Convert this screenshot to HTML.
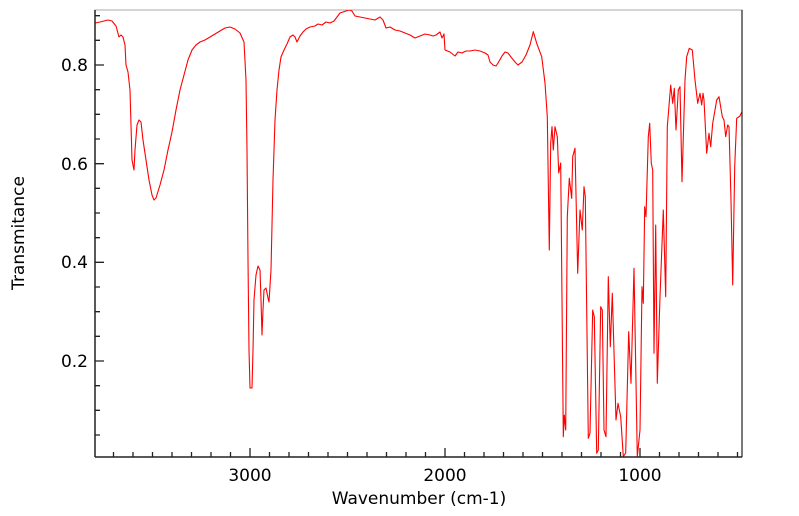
<!DOCTYPE html>
<html><head><meta charset="utf-8"><style>
html,body{margin:0;padding:0;background:#fff;}
svg{display:block;font-family:"DejaVu Sans","Liberation Sans",sans-serif;}
</style></head><body>
<svg width="799" height="516" viewBox="0 0 799 516" xmlns="http://www.w3.org/2000/svg">
<defs><clipPath id="c"><rect x="95" y="10" width="647" height="447"/></clipPath></defs>
<rect x="95" y="10" width="647" height="447" fill="#fff" stroke="#aaa" stroke-width="1"/>
<polyline clip-path="url(#c)" fill="none" stroke="#ff0000" stroke-width="1.1" stroke-linejoin="round" points="
95,23 100,22 104,21 108,20 112,21 116,26 119,37 121,35 123,37 125,45 126,65 128,72 130,90 132,160 134,170 135,150 137,125 139,120 141,122 143,140 146,160 149,180 152,195 154,200 156,198 160,185 164,170 168,150 172,132 176,110 180,90 184,75 188,60 192,50 196,45 200,42 205,40 210,37 215,34 220,31 225,28 230,27 235,29 240,33 244,42 246,80 247,150 248,260 249,350 250,388 252,388 253,350 254,300 256,275 258,266 260,270 261,300 262,335 263,310 264,290 266,288 268,298 269,302 271,270 273,180 275,120 277,90 279,70 281,57 284,50 287,44 290,37 293,35 295,37 297,42 300,36 303,32 306,29 310,27 315,26 318,24 322,25 326,22 330,23 334,21 337,17 340,13 343,12 346,11 349,10 352,11 355,16 360,17 365,18 370,19 375,20 380,17 383,20 386,28 390,27 395,30 400,31 405,33 410,35 415,38 420,36 425,34 430,35 433,36 436,35 440,32 442,38 444,34 445,50 450,52 455,56 458,52 462,53 466,51 470,51 475,50 480,51 485,53 488,55 490,62 493,65 496,66 498,63 502,56 505,52 508,53 511,57 515,62 518,65 522,62 526,55 530,45 533.3,31.7 536.7,43.3 541.7,56.7 545,83 547.3,116.7 549.3,250 550.7,143 552,126.7 553.3,150 555,126.7 557.3,136.7 558.7,173 560.7,163 563.3,436.7 564.3,415 565.7,430 567.3,216.7 569.3,178.3 571.7,198.3 572.7,156.7 575,148.3 577.7,273.3 580,210 582.3,230 584,186.7 585.3,196.7 588.3,438.3 590,433 592.7,310 594.3,316.7 596.7,453.3 598.3,450 600.7,306.7 602.3,310 604,430 606,436.7 608.3,276.7 610.3,346.7 612.3,293.3 616,420 618,403.3 620.7,416.7 623.3,456.7 625.7,453 628.7,331.7 631,383.3 634,268.3 637.3,456.7 640,430 642,286.7 643.3,303.3 644.7,206.7 646,216.7 648.3,136.7 649.7,123.3 651.3,163.3 652.7,170 654,353.3 655.7,225 657.3,383.3 660,296.7 663.3,210 665.7,296.7 667.3,126.7 670.7,85 672.7,103.3 674.3,88.3 676,130 678.3,90 680,86.7 682,181.7 685,80 686.7,56.7 689.3,48.3 692.3,50 695,80 697.7,103.3 700,93.3 701.7,105 703,93.3 704,100 706.7,153.3 709,133.3 710.7,146.7 712.7,123.3 716.7,100 719,96.7 722.3,116.7 724,120 725.7,136.7 727.7,125 729,126.7 731,200 732.7,285 734.7,166.7 736.7,118.3 740,116 742.7,110"/>
<path stroke="#222" stroke-width="1.3" fill="none" d="
M113.5,457v-5M133,457v-5M152.5,457v-5M172,457v-5M191.5,457v-5M211,457v-5M230.5,457v-5M250,457v-9M269.5,457v-5M289,457v-5M308.5,457v-5M328,457v-5M347.5,457v-5M367,457v-5M386.5,457v-5M406,457v-5M425.5,457v-5M445,457v-9M464.5,457v-5M484,457v-5M503.5,457v-5M523,457v-5M542.5,457v-5M562,457v-5M581.5,457v-5M601,457v-5M620.5,457v-5M640,457v-9M659.5,457v-5M679,457v-5M698.5,457v-5M718,457v-5M737.5,457v-5
M95,435h5M95,410.3h5M95,385.7h5M95,361h9M95,336.3h5M95,311.7h5M95,287h5M95,262.3h9M95,237.7h5M95,213h5M95,188.3h5M95,163.7h9M95,139h5M95,114.3h5M95,89.7h5M95,65h9M95,40.3h5M95,15.7h5"/>
<line x1="95" y1="10" x2="95" y2="457" stroke="#222" stroke-width="1.5"/>
<line x1="95" y1="457" x2="742" y2="457" stroke="#222" stroke-width="1.5"/>
<line x1="742" y1="10" x2="742" y2="457" stroke="#222" stroke-width="1.2"/>
<g font-size="17" fill="#000">
<text x="88" y="71" text-anchor="end">0.8</text>
<text x="88" y="170" text-anchor="end">0.6</text>
<text x="88" y="268" text-anchor="end">0.4</text>
<text x="88" y="367" text-anchor="end">0.2</text>
<text x="250" y="481" text-anchor="middle">3000</text>
<text x="445" y="481" text-anchor="middle">2000</text>
<text x="640" y="481" text-anchor="middle">1000</text>
<text x="419" y="504" text-anchor="middle">Wavenumber (cm-1)</text>
<text transform="translate(24,233) rotate(-90)" text-anchor="middle">Transmitance</text>
</g>
</svg>
</body></html>
